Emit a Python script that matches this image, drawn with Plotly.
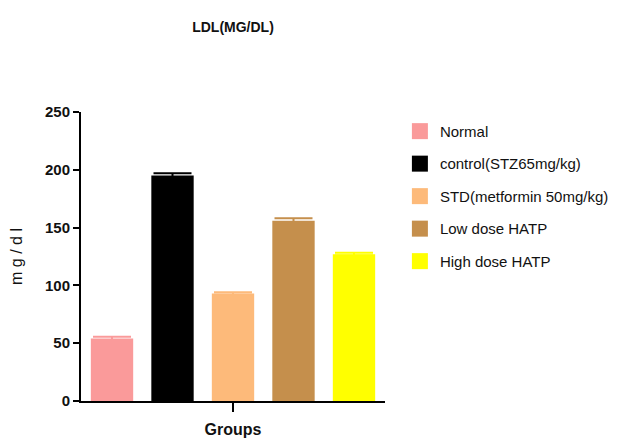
import plotly.graph_objects as go

groups = ["Normal", "control(STZ65mg/kg)", "STD(metformin 50mg/kg)", "Low dose HATP", "High dose HATP"]
ldl_mean = [54, 195, 93, 156, 127]
ldl_err = [1.5, 2, 1, 2, 1.2]
colors = ["#FA9A9A", "#000000", "#FDBA7A", "#C58F4C", "#FFFF00"]
category = ["Groups"]

FONT = "Liberation Sans, Arial, sans-serif"
TXT = "#111111"

fig = go.Figure()
for i, (name, m, e, c) in enumerate(zip(groups, ldl_mean, ldl_err, colors)):
    fig.add_trace(go.Bar(
        x=category, y=[m], name=name,
        marker=dict(color=c, line=dict(width=0)),
        error_y=dict(type="data", array=[e], visible=True, color=c, thickness=2, width=19),
        showlegend=False, legendgroup=f"g{i}",
    ))
for i, (name, c) in enumerate(zip(groups, colors)):
    fig.add_trace(go.Scatter(
        x=[None], y=[None], mode="markers", name=name,
        marker=dict(symbol="square", size=16, color=c),
        legendgroup=f"g{i}", showlegend=True,
    ))

# page body has an 8px margin, so the figure is drawn 8px in from the top-left
fig.update_layout(
    width=627, height=430,
    paper_bgcolor="white", plot_bgcolor="white",
    margin=dict(l=73, r=250, t=104, b=37, autoexpand=False),
    barmode="group", bargap=0.005, bargroupgap=0.3,
    font=dict(family=FONT, color=TXT),
    title=dict(text="<b>LDL(MG/DL)</b>", x=0.5, xref="paper", y=0.956, yref="container",
               xanchor="center", yanchor="middle",
               font=dict(size=14, family=FONT, color=TXT)),
    legend=dict(x=1.049, xref="paper", y=0.99, yref="paper", xanchor="left", yanchor="top",
                font=dict(size=15, family=FONT, color=TXT),
                tracegroupgap=10, itemsizing="trace", bgcolor="rgba(0,0,0,0)"),
    showlegend=True,
)
fig.update_xaxes(
    automargin=False,
    showline=True, linecolor="black", linewidth=2,
    ticks="outside", ticklen=9, tickwidth=2, tickcolor="black",
    showticklabels=True, tickfont=dict(size=16, family=FONT, color=TXT, weight="bold"),
    ticklabelstandoff=4, showgrid=False, zeroline=False,
)
fig.update_yaxes(
    automargin=False,
    range=[0, 250], dtick=50, showline=True, linecolor="black", linewidth=2,
    ticks="outside", ticklen=6, tickwidth=2, tickcolor="black",
    tickfont=dict(size=15, family=FONT, color=TXT, weight="bold"),
    showgrid=False, zeroline=False,
    title=dict(text="m g / d l", font=dict(size=16, family=FONT, color=TXT), standoff=28),
)

fig.write_html("out.html")
